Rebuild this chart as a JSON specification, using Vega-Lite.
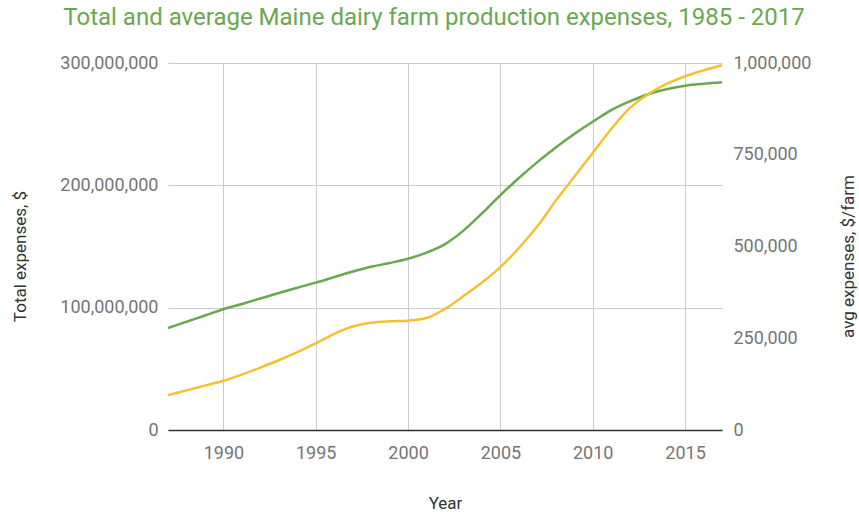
{
  "$schema": "https://vega.github.io/schema/vega-lite/v6.json",
  "width": 554,
  "height": 367,
  "autosize": {"type": "none"},
  "padding": {"left": 168, "top": 63, "right": 137, "bottom": 82},
  "background": "white",
  "config": {
    "font": "Roboto",
    "view": {"stroke": null},
    "axis": {"labelFont": "Roboto", "titleFont": "Roboto", "labelColor": "#757575", "titleColor": "#333333", "labelFontSize": 18, "titleFontSize": 17, "titleFontWeight": "normal", "gridColor": "#cccccc", "gridWidth": 1, "ticks": false}
  },
  "title": {
    "text": "Total and average Maine dairy farm production expenses, 1985 - 2017",
    "color": "#6aa84f",
    "fontSize": 24,
    "fontWeight": "normal",
    "font": "Roboto",
    "anchor": "middle",
    "dx": -11,
    "offset": 24
  },
  "data": {
    "values": [
      {"year": 1987, "total": 83400000, "avg": 95000},
      {"year": 1988, "total": 88500000, "avg": 108000},
      {"year": 1989, "total": 93600000, "avg": 121000},
      {"year": 1990, "total": 98700000, "avg": 134000},
      {"year": 1991, "total": 103000000, "avg": 151000},
      {"year": 1992, "total": 107500000, "avg": 170000},
      {"year": 1993, "total": 112000000, "avg": 190000},
      {"year": 1994, "total": 116300000, "avg": 212000},
      {"year": 1995, "total": 120500000, "avg": 236000},
      {"year": 1996, "total": 125000000, "avg": 262000},
      {"year": 1997, "total": 129500000, "avg": 282000},
      {"year": 1998, "total": 133500000, "avg": 292000},
      {"year": 1999, "total": 136500000, "avg": 296000},
      {"year": 2000, "total": 140000000, "avg": 298000},
      {"year": 2001, "total": 145000000, "avg": 305000},
      {"year": 2002, "total": 152000000, "avg": 330000},
      {"year": 2003, "total": 163000000, "avg": 365000},
      {"year": 2004, "total": 177000000, "avg": 402000},
      {"year": 2005, "total": 192000000, "avg": 444000},
      {"year": 2006, "total": 206000000, "avg": 496000},
      {"year": 2007, "total": 219000000, "avg": 555000},
      {"year": 2008, "total": 231000000, "avg": 625000},
      {"year": 2009, "total": 242000000, "avg": 690000},
      {"year": 2010, "total": 252000000, "avg": 755000},
      {"year": 2011, "total": 261500000, "avg": 820000},
      {"year": 2012, "total": 268600000, "avg": 877000},
      {"year": 2013, "total": 274500000, "avg": 915000},
      {"year": 2014, "total": 278500000, "avg": 943000},
      {"year": 2015, "total": 281400000, "avg": 964000},
      {"year": 2016, "total": 283000000, "avg": 980000},
      {"year": 2017, "total": 284200000, "avg": 994000}
    ]
  },
  "encoding": {
    "x": {
      "field": "year",
      "type": "quantitative",
      "scale": {"domain": [1987, 2017], "nice": false, "zero": false},
      "axis": {
        "title": "Year",
        "values": [1990, 1995, 2000, 2005, 2010, 2015],
        "format": "d",
        "grid": true,
        "domain": true,
        "domainColor": "#333333",
        "domainWidth": 1.5,
        "labelPadding": 14,
        "titlePadding": 33
      }
    }
  },
  "layer": [
    {
      "mark": {"type": "line", "color": "#6aa84f", "strokeWidth": 2.5, "interpolate": "monotone"},
      "encoding": {
        "y": {
          "field": "total",
          "type": "quantitative",
          "scale": {"domain": [0, 300000000], "nice": false},
          "axis": {
            "title": "Total expenses, $",
            "values": [0, 100000000, 200000000, 300000000],
            "format": ",d",
            "grid": true,
            "domain": false,
            "labelPadding": 10,
            "titleX": -148,
            "titleY": 193,
            "titleAngle": -90,
            "titleAlign": "center",
            "titleBaseline": "middle"
          }
        }
      }
    },
    {
      "mark": {"type": "line", "color": "#f1c232", "strokeWidth": 2.5, "interpolate": "monotone"},
      "encoding": {
        "y": {
          "field": "avg",
          "type": "quantitative",
          "scale": {"domain": [0, 1000000], "nice": false},
          "axis": {
            "orient": "right",
            "title": "avg expenses, $/farm",
            "values": [0, 250000, 500000, 750000, 1000000],
            "format": ",d",
            "grid": false,
            "domain": false,
            "labelPadding": 11,
            "titleX": 126,
            "titleY": 193,
            "titleAngle": -90,
            "titleAlign": "center",
            "titleBaseline": "middle"
          }
        }
      }
    }
  ],
  "resolve": {"scale": {"y": "independent"}}
}
